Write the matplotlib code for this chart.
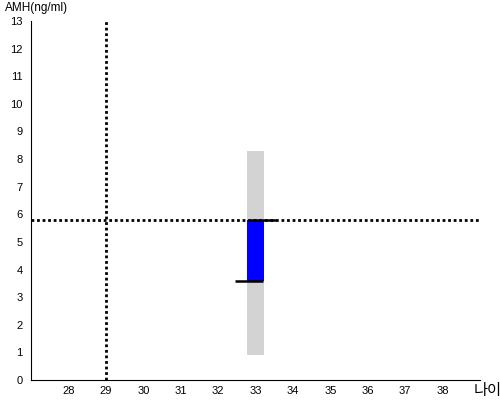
import matplotlib.pyplot as plt

plt.rcParams['font.family'] = ['Liberation Sans', 'Noto Sans CJK KR', 'DejaVu Sans']

# data
age = 33
range_low, range_high = 0.9, 8.3      # gray reference range
amh_low, amh_high = 3.6, 5.8          # blue bar
ref_age = 29
ref_amh = 5.8
x_ticks = list(range(28, 39))
y_ticks = list(range(0, 14))

fig = plt.figure(figsize=(5, 4), dpi=100)
ax = fig.add_axes([0.062, 0.05, 0.898, 0.8975])

ax.bar(age, range_high - range_low, bottom=range_low, width=0.43,
       color='#d3d3d3', zorder=1)
ax.bar(age, amh_high - amh_low, bottom=amh_low, width=0.43,
       color='#0000ff', zorder=2)
ax.hlines(amh_low, age - 0.55, age + 0.2, color='black', lw=1.8, zorder=3)
ax.hlines(amh_high, age - 0.2, age + 0.55, color='black', lw=1.8, zorder=3)

ax.axvline(ref_age, color='black', ls=(0, (1, 1)), lw=2, zorder=4)
ax.axhline(ref_amh, color='black', ls=(0, (1, 1)), lw=2, zorder=4)

ax.set_xlim(27, 39)
ax.set_ylim(0, 13)
ax.set_xticks(x_ticks)
ax.set_yticks(y_ticks)
ax.tick_params(length=0, labelsize=8)
ax.tick_params(axis='y', pad=6)
ax.tick_params(axis='x', pad=4)
for s in ['top', 'right']:
    ax.spines[s].set_visible(False)

fig.text(0.01, 0.965, 'AMH(ng/ml)', fontsize=8.5, ha='left', va='bottom')
fig.text(0.947, 0.005, '나이', fontsize=11, ha='left', va='bottom')

fig.savefig('out.png')
